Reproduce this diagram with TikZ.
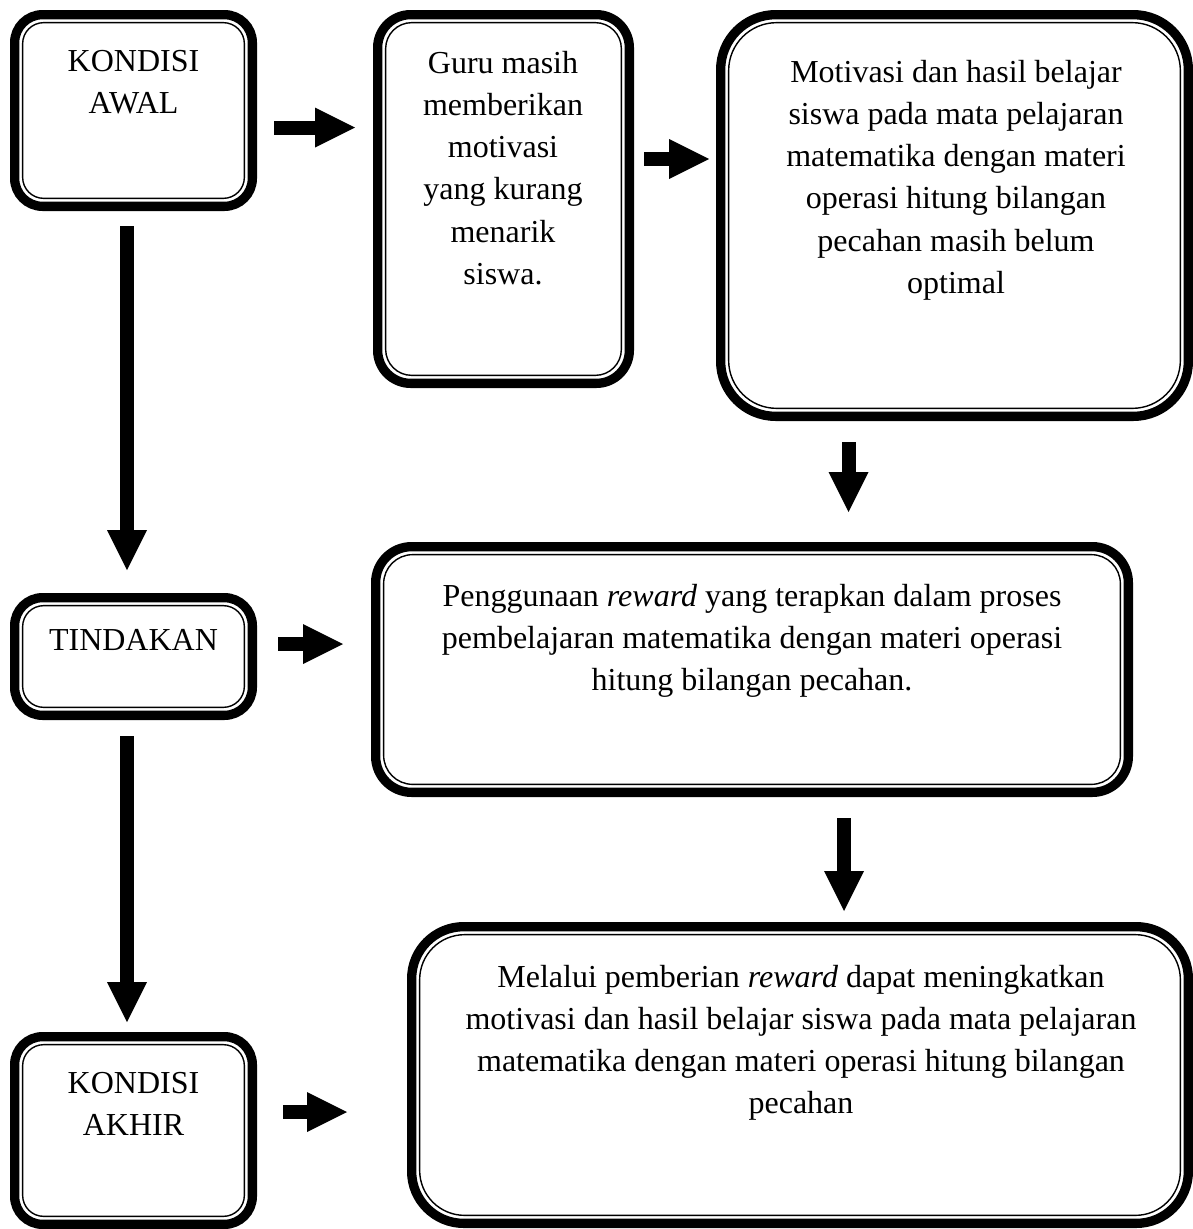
\documentclass[tikz,border=0pt]{standalone}
\usepackage{fontspec}
\setmainfont{Liberation Serif}
\usetikzlibrary{arrows.meta,calc}
\tikzset{
  box/.style={draw, fill=white, line width=9.3pt, outer sep=0pt, inner sep=0pt},
  innerline/.style={line width=1.4pt},
  txt/.style={inner sep=0pt, anchor=base, font=\fontsize{32}{42.3}\selectfont},
  blk/.style={line width=14pt, -{Triangle[length=40pt,width=40pt,line width=0pt]}},
}
% name, cx, cy, w, h, r, inner r
\newcommand\dblbox[7]{%
  \node[box, rounded corners=#6pt, minimum width=#4pt, minimum height=#5pt] (#1) at (#2,#3) {};
  \draw[innerline, rounded corners=#7pt] ([shift={(8pt,8pt)}]#1.south west) rectangle ([shift={(-8pt,-8pt)}]#1.north east);
}
\begin{document}
\begin{tikzpicture}[x=1pt,y=-1pt]
\useasboundingbox (0,0) rectangle (1193,1229);
% boxes
\dblbox{awal}{133.5}{110.5}{237.7}{191.7}{28}{21}
\dblbox{guru}{503.5}{199}{251.7}{368.7}{33}{26}
\dblbox{motiv}{954.5}{215.5}{467.7}{401.7}{55}{48}
\dblbox{tindakan}{133.5}{656.5}{237.7}{117.7}{28}{21}
\dblbox{reward}{752}{669.5}{752.7}{245.7}{36}{29}
\dblbox{akhir}{133.5}{1130.5}{237.7}{187.7}{28}{21}
\dblbox{hasil}{800}{1075}{776.7}{296.7}{52}{45}
% texts
\node[txt] (tawal) at (133.5,71) {\parbox[t]{220pt}{\centering KONDISI\\AWAL}};
\node[txt] (tguru) at (503,73) {\parbox[t]{230pt}{\centering Guru masih\\memberikan\\motivasi\\yang kurang\\menarik\\siswa.}};
\node[txt] (tmotiv) at (956,82) {\parbox[t]{440pt}{\centering Motivasi dan hasil belajar\\siswa pada mata pelajaran\\matematika dengan materi\\operasi hitung bilangan\\pecahan masih belum\\optimal}};
\node[txt] (ttindakan) at (133.5,650) {\parbox[t]{220pt}{\centering TINDAKAN}};
\node[txt] (treward) at (752,606) {\parbox[t]{740pt}{\centering Penggunaan \emph{reward} yang terapkan dalam proses\\pembelajaran matematika dengan materi operasi\\hitung bilangan pecahan.}};
\node[txt] (takhir) at (133.5,1093) {\parbox[t]{220pt}{\centering KONDISI\\AKHIR}};
\node[txt] (thasil) at (801,987) {\parbox[t]{760pt}{\centering Melalui pemberian \emph{reward} dapat meningkatkan\\motivasi dan hasil belajar siswa pada mata pelajaran\\matematika dengan materi operasi hitung bilangan\\pecahan}};
% arrow end points
\coordinate (a1s) at (274,127.5);  \coordinate (a1e) at (355,127.5);
\coordinate (a2s) at (644,159);    \coordinate (a2e) at (709,159);
\coordinate (a3s) at (278,644);    \coordinate (a3e) at (343,644);
\coordinate (a4s) at (283,1112);   \coordinate (a4e) at (347,1112);
\coordinate (d1s) at (848.5,442);  \coordinate (d1e) at (848.5,512);
\coordinate (d2s) at (844,818);    \coordinate (d2e) at (844,911);
\coordinate (l1s) at (127,226);    \coordinate (l1e) at (127,570);
\coordinate (l2s) at (127,736);    \coordinate (l2e) at (127,1022);
% arrows
\draw[blk] (a1s) -- (a1e);
\draw[blk] (a2s) -- (a2e);
\draw[blk] (a3s) -- (a3e);
\draw[blk] (a4s) -- (a4e);
\draw[blk] (d1s) -- (d1e);
\draw[blk] (d2s) -- (d2e);
\draw[blk] (l1s) -- (l1e);
\draw[blk] (l2s) -- (l2e);
\end{tikzpicture}
\end{document}
